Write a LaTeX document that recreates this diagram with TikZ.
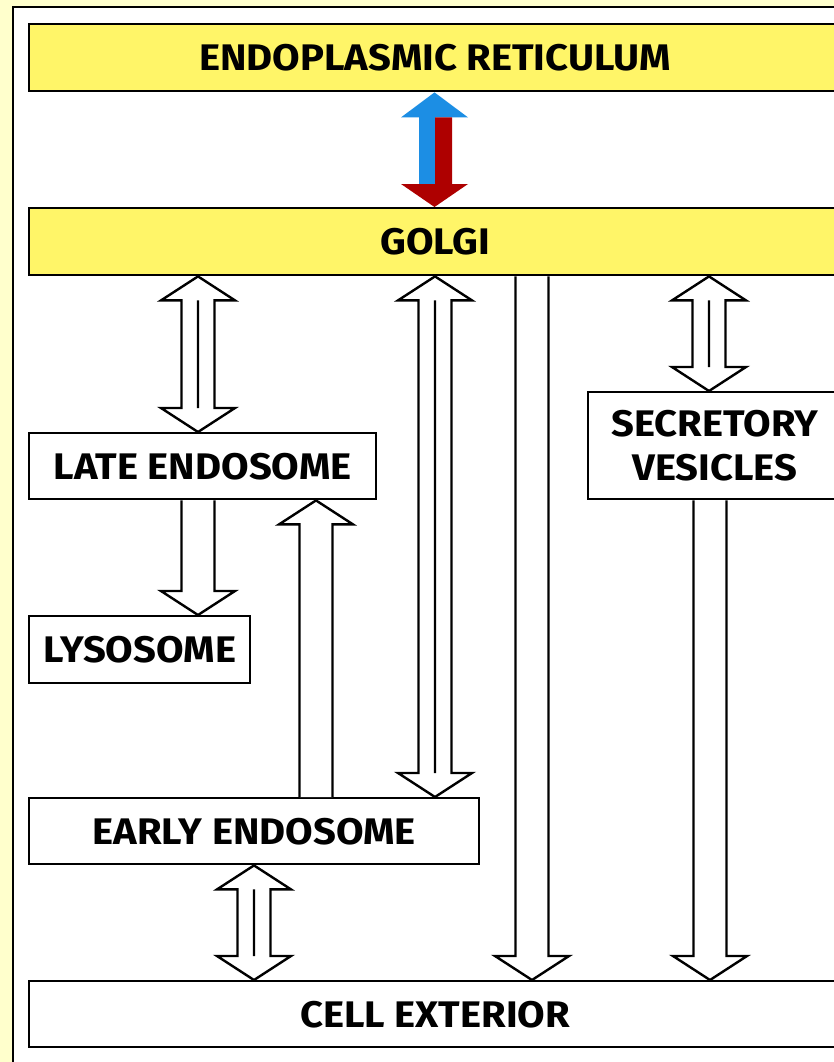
\documentclass[tikz,border=0pt]{standalone}
\usepackage{fontspec}
\setmainfont{Fira Sans}[FakeStretch=1.08]
\usetikzlibrary{calc}

\definecolor{bgyellow}{RGB}{255,255,204}
\definecolor{boxyellow}{RGB}{255,245,104}
\definecolor{upblue}{RGB}{28,142,228}
\definecolor{downred}{RGB}{174,0,0}

% hollow block arrows: #1 centre x, #2 start anchor, #3 end anchor
\newcommand{\hollowdown}[3]{%
  \draw[blockarrow] let \p1 = (#2), \p2 = (#3) in
    (#1pt-16.5pt,\y1) -- (#1pt-16.5pt,\y2+24pt) -- (#1pt-37pt,\y2+24pt)
    -- (#1pt,\y2) -- (#1pt+37pt,\y2+24pt) -- (#1pt+16.5pt,\y2+24pt)
    -- (#1pt+16.5pt,\y1);}
\newcommand{\hollowup}[3]{%
  \draw[blockarrow] let \p1 = (#2), \p2 = (#3) in
    (#1pt-16.5pt,\y1) -- (#1pt-16.5pt,\y2-24pt) -- (#1pt-37pt,\y2-24pt)
    -- (#1pt,\y2) -- (#1pt+37pt,\y2-24pt) -- (#1pt+16.5pt,\y2-24pt)
    -- (#1pt+16.5pt,\y1);}
\newcommand{\hollowboth}[3]{%
  \draw[blockarrow] let \p1 = (#2), \p2 = (#3) in
    (#1pt,\y1) -- (#1pt+37pt,\y1-24pt) -- (#1pt+16.5pt,\y1-24pt)
    -- (#1pt+16.5pt,\y2+24pt) -- (#1pt+37pt,\y2+24pt) -- (#1pt,\y2)
    -- (#1pt-37pt,\y2+24pt) -- (#1pt-16.5pt,\y2+24pt)
    -- (#1pt-16.5pt,\y1-24pt) -- (#1pt-37pt,\y1-24pt) -- cycle
    (#1pt,\y1-24pt) -- (#1pt,\y2+24pt);}

\begin{document}
\begin{tikzpicture}[x=1pt, y=-1pt,
    organelle/.style = {draw, line width=2.4pt, fill=white, inner sep=0pt,
      anchor=north west, align=center,
      font=\fontsize{37}{44}\selectfont\bfseries},
    ybox/.style = {organelle, fill=boxyellow},
    blockarrow/.style = {draw, line width=2.4pt, fill=white, line join=miter}]

  \useasboundingbox (0,0) rectangle (834,1062);
  \fill[bgyellow] (0,0) rectangle (834,1062);
  \draw[line width=1.6pt, fill=white] (13,7) rectangle (880,1100);

  \node[ybox, minimum width=812, minimum height=67] (er) at (28,23) {ENDOPLASMIC RETICULUM};
  \node[ybox, minimum width=812, minimum height=67] (golgi) at (28,207) {GOLGI};
  \node[organelle, minimum width=347, minimum height=66] (late) at (28,432) {LATE ENDOSOME};
  \node[organelle, minimum width=221, minimum height=67] (lyso) at (28,615) {LYSOSOME};
  \node[organelle, minimum width=450, minimum height=66] (early) at (28,797) {EARLY ENDOSOME};
  \node[organelle, minimum width=253, minimum height=107] (secr) at (587,391) {SECRETORY\\VESICLES};
  \node[organelle, minimum width=812, minimum height=66] (cell) at (28,980) {CELL EXTERIOR};

  % ER <-> Golgi
  \fill[upblue] let \p1 = (er.south), \p2 = (golgi.north) in
    (419pt,\y2+23pt) -- (419pt,\y1-25pt) -- (401pt,\y1-25pt) -- (434.5pt,\y1)
    -- (468pt,\y1-25pt) -- (435pt,\y1-25pt) -- (435pt,\y2+23pt) -- cycle;
  \fill[downred] let \p1 = (er.south), \p2 = (golgi.north) in
    (435pt,\y1-25pt) -- (452pt,\y1-25pt) -- (452pt,\y2+23pt) -- (468pt,\y2+23pt)
    -- (434.5pt,\y2) -- (401pt,\y2+23pt) -- (435pt,\y2+23pt) -- cycle;

  \hollowboth{198}{golgi.south}{late.north}
  \hollowboth{435}{golgi.south}{early.north}
  \hollowdown{532}{golgi.south}{cell.north}
  \hollowboth{709}{golgi.south}{secr.north}
  \hollowdown{198}{late.south}{lyso.north}
  \hollowup{316}{early.north}{late.south}
  \hollowboth{254}{early.south}{cell.north}
  \hollowdown{710}{secr.south}{cell.north}
\end{tikzpicture}
\end{document}
